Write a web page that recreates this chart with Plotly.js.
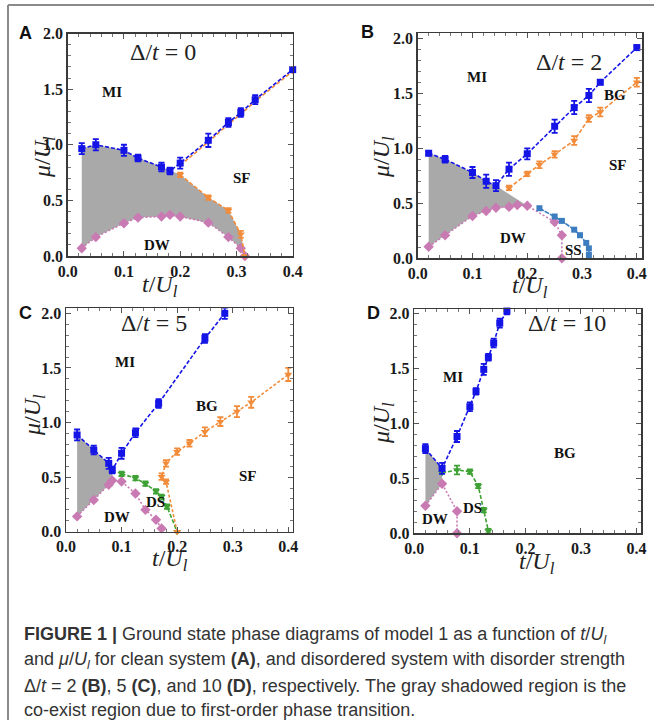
<!DOCTYPE html>
<html><head><meta charset="utf-8">
<script src="https://cdn.plot.ly/plotly-3.0.1.min.js"></script>
<style>html,body{margin:0;padding:0;background:#fff}</style>
</head><body><div id="chart" style="width:654px;height:720px"></div>
<script>
// ---------- tick values and labels ----------
const xTickVals = [0,0.1,0.2,0.3,0.4];
const xTickText = ['0.0','0.1','0.2','0.3','0.4'];
const yTickVals = [0,0.5,1.0,1.5,2.0];
const yTickText = ['0.0','0.5','1.0','1.5','2.0'];

// ---------- Panel A (Δ/t = 0) ----------
const tA_MI  = [0.025,0.05,0.1,0.125,0.1667,0.1818,0.2,0.25,0.2857,0.3077,0.3333,0.4];
const muA_MI = [0.965,1.0,0.95,0.88,0.80,0.765,0.835,1.04,1.20,1.29,1.405,1.675];
const errA_MI= [0.05,0.05,0.05,0.03,0.04,0.03,0.05,0.06,0.04,0.04,0.04,0];
const tA_SFlo  = [0.2,0.25,0.2857,0.3077,0.315];
const muA_SFlo = [0.73,0.525,0.41,0.195,0.0];
const tA_SFup  = [0.2,0.25,0.2857,0.3077,0.3333,0.4];
const muA_SFup = [0.815,1.025,1.185,1.275,1.39,1.66];
const tA_DW  = [0.025,0.05,0.1,0.125,0.1667,0.1818,0.2,0.25,0.2857,0.3077,0.315];
const muA_DW = [0.07,0.17,0.295,0.345,0.355,0.37,0.355,0.30,0.17,0.07,0.0];

// ---------- Panel B (Δ/t = 2) ----------
const tB_MI  = [0.02,0.05,0.1,0.125,0.1429,0.1667,0.2,0.25,0.2857,0.3125,0.3333,0.4];
const muB_MI = [0.955,0.90,0.78,0.70,0.66,0.81,0.95,1.20,1.37,1.48,1.60,1.915];
const errB_MI= [0.02,0.03,0.05,0.06,0.05,0.06,0.05,0.06,0.06,0.06,0.02,0.02];
const tB_BG  = [0.1667,0.2,0.2222,0.25,0.2857,0.3125,0.3333,0.4];
const muB_BG = [0.64,0.767,0.85,0.945,1.07,1.27,1.33,1.60];
const errB_BG= [0.02,0.02,0.03,0.03,0.04,0.03,0.04,0.04];
const tB_DW  = [0.02,0.05,0.1,0.125,0.1429,0.1667,0.1818,0.2,0.25,0.2632,0.2632];
const muB_DW = [0.105,0.21,0.385,0.43,0.46,0.467,0.485,0.478,0.33,0.21,0.0];
const tB_SS  = [0.2222,0.25,0.2632,0.2857,0.2963,0.3077,0.3125,0.3125];
const muB_SS = [0.455,0.38,0.34,0.26,0.21,0.14,0.09,0.03];

// ---------- Panel C (Δ/t = 5) ----------
const tC_MI  = [0.02,0.05,0.0769,0.0833,0.1,0.125,0.1667,0.25,0.2857];
const muC_MI = [0.886,0.748,0.626,0.565,0.718,0.907,1.175,1.77,2.0];
const errC_MI= [0.05,0.04,0.05,0.03,0.05,0.04,0.04,0.04,0.05];
const tC_BG  = [0.2,0.18,0.172,0.18,0.2,0.2222,0.25,0.2778,0.3077,0.3333,0.4];
const muC_BG = [0.0,0.458,0.504,0.626,0.733,0.81,0.916,1.008,1.10,1.185,1.44];
const errC_BG= [0,0.02,0.03,0.03,0.03,0.03,0.04,0.04,0.05,0.05,0.06];
const tC_DW  = [0.02,0.05,0.0769,0.0833,0.1,0.125,0.1429,0.162,0.172];
const muC_DW = [0.14,0.29,0.43,0.47,0.46,0.35,0.2,0.11,0.03];
const tC_DS  = [0.1,0.125,0.1429,0.162,0.172,0.1818,0.2];
const muC_DS = [0.53,0.49,0.44,0.37,0.32,0.23,0.0];
const errC_DS= [0.02,0.02,0.02,0.02,0.02,0.02,0];

// ---------- Panel D (Δ/t = 10) ----------
const tD_MI  = [0.02,0.05,0.0769,0.1,0.1111,0.125,0.1333,0.1429,0.1538,0.1667];
const muD_MI = [0.77,0.59,0.88,1.15,1.29,1.49,1.60,1.73,1.91,2.02];
const errD_MI= [0.04,0.05,0.05,0.04,0.03,0.05,0.03,0.04,0.04,0.03];
const tD_DW  = [0.02,0.05,0.0769,0.0769];
const muD_DW = [0.25,0.45,0.2,0.0];
const tD_DS  = [0.05,0.0769,0.1,0.115,0.125,0.1333];
const muD_DS = [0.55,0.576,0.56,0.43,0.21,0.02];
const errD_DS= [0,0.04,0.02,0.02,0.02,0.02];

// ---------- text ----------
const panelLetters = ['A','B','C','D'];
const panelTitles = ['Δ/<i>t</i> = 0','Δ/<i>t</i> = 2','Δ/<i>t</i> = 5','Δ/<i>t</i> = 10'];
const captionLines = [
 '<b>FIGURE 1 |</b> Ground state phase diagrams of model 1 as a function of <i>t</i>/<i>U<sub>l</sub></i>',
 'and <i>μ</i>/<i>U<sub>l</sub></i> for clean system <b>(A)</b>, and disordered system with disorder strength',
 'Δ/<i>t</i> = 2 <b>(B)</b>, 5 <b>(C)</b>, and 10 <b>(D)</b>, respectively. The gray shadowed region is the',
 'co-exist region due to first-order phase transition.'
];

// ---------- geometry helpers ----------
const W=654,H=720;
const PX = x => x/W, PY = y => 1-y/H;
const C_MI='#1414e6', C_SF='#f28c3a', C_DW='#c97ab3', C_DS='#3ea134', C_SS='#3c7dbf', C_FILL='#a9a9a9';

function ax(n){return n===1?'':String(n);}
function series(n,t,mu,err,color,symbol,dash,size){
  const tr={x:t,y:mu,xaxis:'x'+ax(n),yaxis:'y'+ax(n),mode:'lines+markers',cliponaxis:false,
    line:{color:color,dash:dash,width:1.6},marker:{symbol:symbol,size:size,color:color},hoverinfo:'skip'};
  if(err) tr.error_y={type:'data',array:err,visible:true,color:color,thickness:1.8,width:3};
  return tr;
}
function fillPoly(n,tTop,muTop,tBot,muBot,tMaxTop,tMaxBot){
  const xs=[],ys=[];
  tTop.forEach((t,i)=>{if(t<=tMaxTop){xs.push(t);ys.push(muTop[i]);}});
  for(let i=tBot.length-1;i>=0;i--){ if(tBot[i]<=tMaxBot){xs.push(tBot[i]);ys.push(muBot[i]);} }
  return {x:xs,y:ys,xaxis:'x'+ax(n),yaxis:'y'+ax(n),mode:'lines',fill:'toself',fillcolor:C_FILL,line:{width:0},hoverinfo:'skip'};
}

const traces=[];
(function(){
  const xs=[],ys=[];
  tA_MI.forEach((t,i)=>{if(t<=0.1818){xs.push(t);ys.push(muA_MI[i]);}});
  tA_SFlo.forEach((t,i)=>{xs.push(t);ys.push(muA_SFlo[i]);});
  for(let i=tA_DW.length-1;i>=0;i--){xs.push(tA_DW[i]);ys.push(muA_DW[i]);}
  traces.push({x:xs,y:ys,xaxis:'x',yaxis:'y',mode:'lines',fill:'toself',fillcolor:C_FILL,line:{width:0},hoverinfo:'skip'});
})();
traces.push(fillPoly(2,tB_MI,muB_MI,tB_DW,muB_DW,0.1429,0.2));
traces.push(fillPoly(3,tC_MI,muC_MI,tC_DW,muC_DW,0.0833,0.0833));
traces.push(fillPoly(4,tD_MI,muD_MI,tD_DW,muD_DW,0.05,0.05));

traces.push(series(1,tA_DW,muA_DW,null,C_DW,'diamond','2px,2px',8));
traces.push(series(1,tA_SFup,muA_SFup,null,C_SF,'triangle-down','4px,2px',6));
traces.push(series(1,tA_SFlo,muA_SFlo,[0.02,0.02,0.02,0.03,0],C_SF,'triangle-down','4px,2px',7));
traces.push(series(1,tA_MI,muA_MI,errA_MI,C_MI,'square','4px,2px',7));
traces.push(series(2,tB_DW,muB_DW,null,C_DW,'diamond','2px,2px',8));
traces.push(series(2,tB_SS,muB_SS,null,C_SS,'square','5px,1px',6));
traces.push(series(2,tB_BG,muB_BG,errB_BG,C_SF,'triangle-down','4px,2px',7));
traces.push(series(2,tB_MI,muB_MI,errB_MI,C_MI,'square','4px,2px',7));
traces.push(series(3,tC_DW,muC_DW,null,C_DW,'diamond','2px,2px',8));
traces.push(series(3,tC_DS,muC_DS,errC_DS,C_DS,'triangle-down','4px,2px',7));
traces.push(series(3,tC_BG,muC_BG,errC_BG,C_SF,'triangle-down','3px,2px',7));
traces.push(series(3,tC_MI,muC_MI,errC_MI,C_MI,'square','4px,2px',7));
traces.push(series(4,tD_DW,muD_DW,null,C_DW,'diamond','2px,2px',8));
traces.push(series(4,tD_DS,muD_DS,errD_DS,C_DS,'triangle-down','4px,2px',7));
traces.push(series(4,tD_MI,muD_MI,errD_MI,C_MI,'square','4px,2px',7));

const boxes=[
  {b:[67.7,292.7,33.5,256],xr:[0,0.4],yr:[0,2.0]},
  {b:[417.7,642.3,33.3,258.3],xr:[0,0.41],yr:[0,2.045]},
  {b:[66,292.7,308.3,531.7],xr:[0,0.408],yr:[0,2.046]},
  {b:[414.3,641,309.3,533.3],xr:[0,0.408],yr:[0,2.036]}
];
const layout={width:W,height:H,margin:{l:0,r:0,t:0,b:0},paper_bgcolor:'#fff',plot_bgcolor:'#fff',showlegend:false,
  font:{family:'Liberation Serif'},annotations:[],shapes:[]};
const bold = a => a.map(s=>'<b>'+s+'</b>');
boxes.forEach((bx,i)=>{
  const n=i+1,[l,r,t,b]=bx.b;
  const mk = () => ({showline:true,linecolor:'#3a3a3a',linewidth:1.5,mirror:'ticks',ticks:'inside',ticklen:5,tickwidth:1,tickcolor:'#555',
    showgrid:false,zeroline:false,tickfont:{family:'Liberation Serif',size:16,color:'#1a1a1a'},fixedrange:true,tickmode:'array'});
  layout['xaxis'+ax(n)]=Object.assign(mk(),{domain:[PX(l),PX(r)],range:bx.xr,anchor:'y'+ax(n),
    tickvals:xTickVals,ticktext:bold(xTickText),
    minor:{ticks:'inside',ticklen:3,tickmode:'linear',tick0:0,dtick:0.02,tickcolor:'#777',tickwidth:1}});
  layout['yaxis'+ax(n)]=Object.assign(mk(),{domain:[PY(b),PY(t)],range:bx.yr,anchor:'x'+ax(n),
    tickvals:yTickVals,ticktext:bold(yTickText),
    minor:{ticks:'inside',ticklen:3,tickmode:'linear',tick0:0,dtick:0.1,tickcolor:'#777',tickwidth:1}});
});

function ann(x,y,text,font,extra){layout.annotations.push(Object.assign({xref:'paper',yref:'paper',x:PX(x),y:PY(y),text:text,showarrow:false,font:font,xanchor:'center',yanchor:'middle'},extra||{}));}
const serifTitle={family:'Liberation Serif',size:24,color:'#222'};
const regionFont={family:'Liberation Serif',size:15,color:'#111'};
const letterFont={family:'Liberation Sans',size:18,color:'#111'};
[[25,33],[367,32],[25,313],[373,313]].forEach((p,i)=>ann(p[0],p[1],'<b>'+panelLetters[i]+'</b>',letterFont));
[[163,52],[569,62],[154,323],[567,323]].forEach((p,i)=>ann(p[0],p[1],panelTitles[i],serifTitle));
const xt='<i>t</i>/<i>U<sub>l</sub></i>', yt='<i>μ</i>/<i>U<sub>l</sub></i>';
[[160,286],[530,287],[170,560],[537,563]].forEach(p=>ann(p[0],p[1],xt,serifTitle));
[[44,157],[383,157],[34,415],[383,423]].forEach(p=>ann(p[0],p[1],yt,serifTitle,{textangle:-90}));
const regions=[
 [112,92,'MI'],[242,178,'SF'],[157,245,'DW'],
 [477,77,'MI'],[615,95,'BG'],[618,165,'SF'],[513,238,'DW'],[573,250,'SS'],
 [125,362,'MI'],[207,406,'BG'],[248,476,'SF'],[117,517,'DW'],[155,502,'DS'],
 [453,377,'MI'],[565,453,'BG'],[435,519,'DW'],[472,508,'DS']
];
regions.forEach(r=>ann(r[0],r[1],'<b>'+r[2]+'</b>',regionFont));
const capFont={family:'Liberation Sans',size:18,color:'#333'};
[635,660.5,685.5,710].forEach((y,i)=>ann(22,y,captionLines[i],capFont,{xanchor:'left'}));
layout.shapes.push({type:'line',xref:'paper',yref:'paper',x0:PX(8),x1:PX(8),y0:0,y1:PY(5),line:{color:'#8a8a8a',width:2}});
layout.shapes.push({type:'line',xref:'paper',yref:'paper',x0:PX(8),x1:1,y0:PY(5),y1:PY(5),line:{color:'#8a8a8a',width:2}});

Plotly.newPlot('chart',traces,layout,{staticPlot:true,displayModeBar:false});
</script></body></html>
